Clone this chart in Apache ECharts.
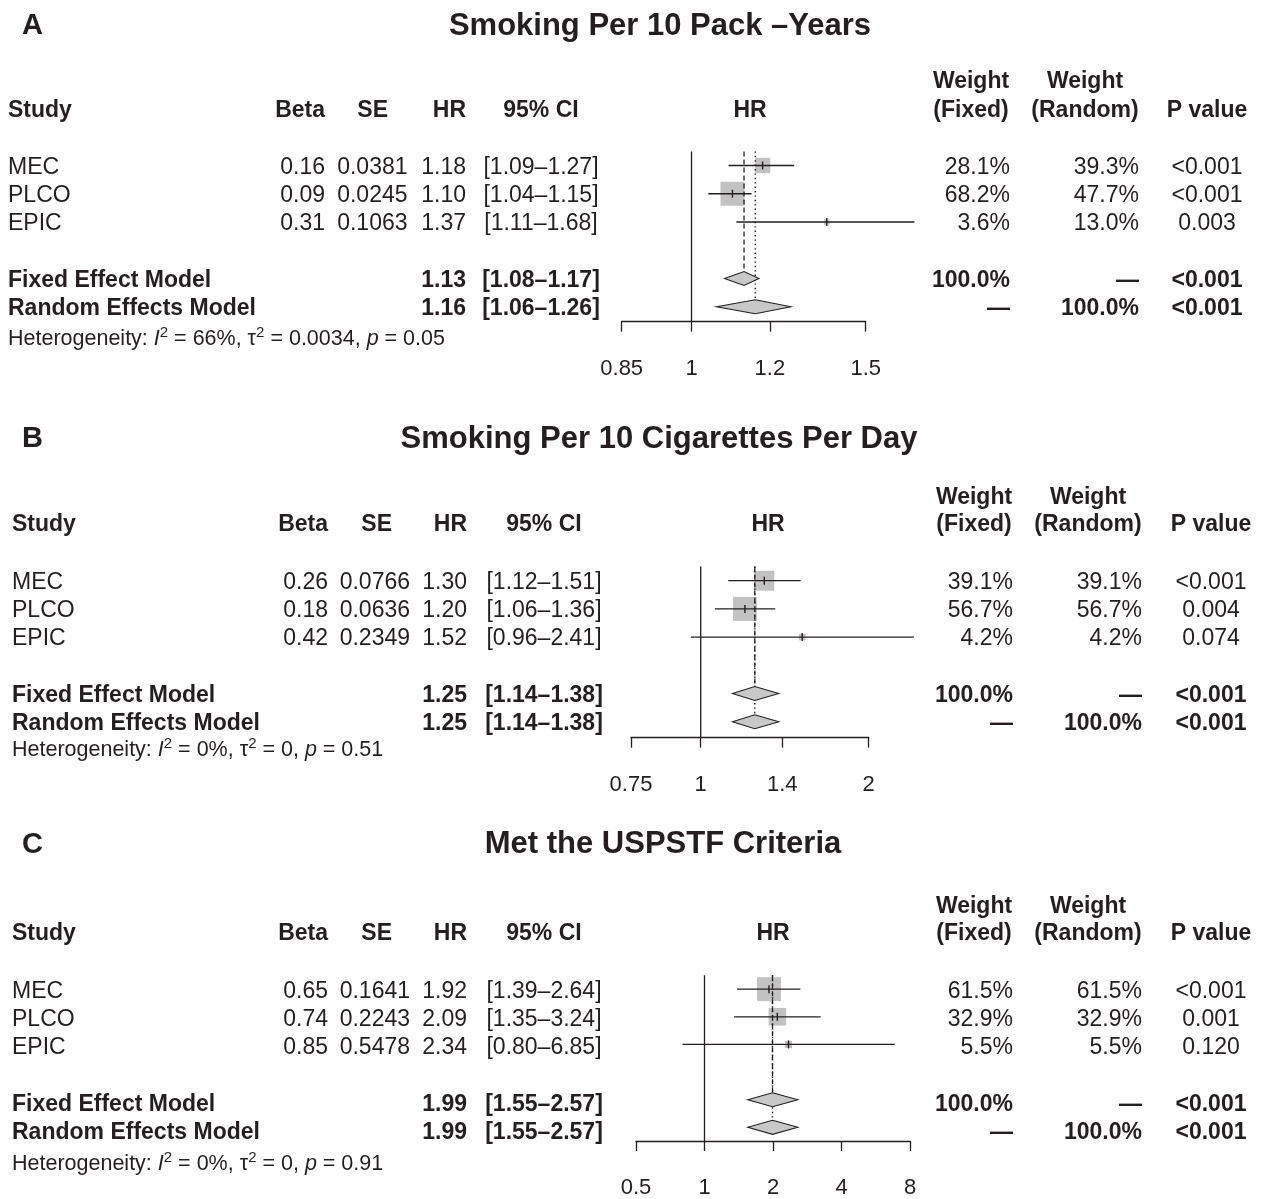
<!DOCTYPE html>
<html>
<head>
<meta charset="utf-8">
<title>Forest plots: smoking exposure and HR</title>
<script src="https://cdn.jsdelivr.net/npm/echarts@6/dist/echarts.min.js"></script>
<style>
  html, body { margin: 0; padding: 0; background: #ffffff; }
  #main { width: 1266px; height: 1199px; }
</style>
</head>
<body>
<div id="main"></div>
<script>
// ---------------- data ----------------
const studies = ['MEC', 'PLCO', 'EPIC'];
const modelNames = ['Fixed Effect Model', 'Random Effects Model'];

// A: smoking per 10 pack-years
const titleA = 'Smoking Per 10 Pack –Years';
const betaA = [0.16, 0.09, 0.31];
const seA = [0.0381, 0.0245, 0.1063];
const hrA = [1.18, 1.10, 1.37];
const lowA = [1.09, 1.04, 1.11];
const highA = [1.27, 1.15, 1.68];
const wFixedA = [28.1, 68.2, 3.6];
const wRandomA = [39.3, 47.7, 13.0];
const pA = ['<0.001', '<0.001', '0.003'];
const fixedA = [1.13, 1.08, 1.17];     // HR, lower, upper
const randomA = [1.16, 1.06, 1.26];
const pModelA = ['<0.001', '<0.001'];
const hetA = ['66%', '0.0034', '0.05']; // I2, tau2, p
const ticksA = [0.85, 1, 1.2, 1.5];

// B: smoking per 10 cigarettes per day
const titleB = 'Smoking Per 10 Cigarettes Per Day';
const betaB = [0.26, 0.18, 0.42];
const seB = [0.0766, 0.0636, 0.2349];
const hrB = [1.30, 1.20, 1.52];
const lowB = [1.12, 1.06, 0.96];
const highB = [1.51, 1.36, 2.41];
const wFixedB = [39.1, 56.7, 4.2];
const wRandomB = [39.1, 56.7, 4.2];
const pB = ['<0.001', '0.004', '0.074'];
const fixedB = [1.25, 1.14, 1.38];
const randomB = [1.25, 1.14, 1.38];
const pModelB = ['<0.001', '<0.001'];
const hetB = ['0%', '0', '0.51'];
const ticksB = [0.75, 1, 1.4, 2];

// C: met the USPSTF criteria
const titleC = 'Met the USPSTF Criteria';
const betaC = [0.65, 0.74, 0.85];
const seC = [0.1641, 0.2243, 0.5478];
const hrC = [1.92, 2.09, 2.34];
const lowC = [1.39, 1.35, 0.80];
const highC = [2.64, 3.24, 6.85];
const wFixedC = [61.5, 32.9, 5.5];
const wRandomC = [61.5, 32.9, 5.5];
const pC = ['<0.001', '0.001', '0.120'];
const fixedC = [1.99, 1.55, 2.57];
const randomC = [1.99, 1.55, 2.57];
const pModelC = ['<0.001', '<0.001'];
const hetC = ['0%', '0', '0.91'];
const ticksC = [0.5, 1, 2, 4, 8];

// ---------------- layout & style ----------------
const INK = '#231f20';
const GREY = '#c2c2c2';
const FONT = '"Liberation Sans", Arial, Helvetica, sans-serif';
const ln = Math.log;
const TEXT_DY = 2;   // canvas "middle" sits a little high for these glyphs

const panels = [
  { letter: 'A', title: titleA, beta: betaA, se: seA, hr: hrA, low: lowA, high: highA,
    wf: wFixedA, wr: wRandomA, p: pA, fixed: fixedA, random: randomA, pModel: pModelA, het: hetA, ticks: ticksA,
    L: { letterY: 24, titleX: 660, titleY: 24, h1: 80, h2: 109, row0: 165.5, step: 28.25, axisY: 321.7,
         x0: 621.7, x1: 865.7, hetY: 338,
         c: { study: 8, beta: 325, seH: 388, se: 407.5, hr: 466, ci: 541, plotH: 750, wfH: 971, wf: 1010, wrH: 1085, wr: 1139, p: 1207 } } },
  { letter: 'B', title: titleB, beta: betaB, se: seB, hr: hrB, low: lowB, high: highB,
    wf: wFixedB, wr: wRandomB, p: pB, fixed: fixedB, random: randomB, pModel: pModelB, het: hetB, ticks: ticksB,
    L: { letterY: 437, titleX: 659, titleY: 437, h1: 496, h2: 523, row0: 580.7, step: 28.2, axisY: 737.7,
         x0: 631, x1: 868.7, hetY: 749,
         c: { study: 12, beta: 328, seH: 392, se: 410, hr: 467, ci: 544, plotH: 768, wfH: 974, wf: 1013, wrH: 1088, wr: 1142, p: 1211 } } },
  { letter: 'C', title: titleC, beta: betaC, se: seC, hr: hrC, low: lowC, high: highC,
    wf: wFixedC, wr: wRandomC, p: pC, fixed: fixedC, random: randomC, pModel: pModelC, het: hetC, ticks: ticksC,
    L: { letterY: 843, titleX: 663, titleY: 842, h1: 905, h2: 932, row0: 989.5, step: 28.3, axisY: 1145,
         x0: 636, x1: 910, hetY: 1163,
         c: { study: 12, beta: 328, seH: 392, se: 410, hr: 467, ci: 544, plotH: 773, wfH: 974, wf: 1013, wrH: 1088, wr: 1142, p: 1211 } } }
];

const STUDY_ROWS = [0, 1, 2];
const FIXED_ROW = 4, RANDOM_ROW = 5;
const DIAMOND_HALF = 7;   // px
const MAX_SQUARE = 24;    // px, side of the heaviest study's box

function txt(x, y, s, size, opts) {
  opts = opts || {};
  const align = opts.align || 'left';
  return {
    type: 'text', x: x, y: y + TEXT_DY, silent: true, z: 10,
    style: {
      text: s, fill: INK,
      font: (opts.bold ? 'bold ' : '') + size + 'px ' + FONT,
      align: align, textAlign: align,
      verticalAlign: 'middle', textVerticalAlign: 'middle'
    }
  };
}
const ci = (lo, hi) => '[' + lo.toFixed(2) + '–' + hi.toFixed(2) + ']';
const pct = v => v.toFixed(1) + '%';

const grids = [], xAxes = [], yAxes = [], series = [], graphics = [];

panels.forEach((P, i) => {
  const L = P.L, c = L.c;
  const top = L.row0 - 0.5 * L.step;
  const yMax = (L.axisY - L.row0) / L.step;
  const tickLn = P.ticks.map(ln);

  grids.push({ left: L.x0, width: L.x1 - L.x0, top: top, height: L.axisY - top, containLabel: false });
  xAxes.push({
    gridIndex: i, type: 'value', min: tickLn[0], max: tickLn[tickLn.length - 1],
    axisLine: { show: true, onZero: false, lineStyle: { color: INK, width: 1.3 } },
    axisTick: { show: true, customValues: tickLn, length: 10, lineStyle: { color: INK, width: 1.3 } },
    axisLabel: {
      show: true, customValues: tickLn, margin: 36, fontSize: 22, color: INK, fontFamily: FONT,
      hideOverlap: false, showMinLabel: true, showMaxLabel: true,
      formatter: v => {
        const t = P.ticks.find(t => Math.abs(ln(t) - v) < 1e-6);
        return t == null ? '' : String(t);
      }
    },
    splitLine: { show: false }
  });
  yAxes.push({ gridIndex: i, type: 'value', min: -0.5, max: yMax, inverse: true, show: false });

  const maxW = Math.max.apply(null, P.wf);
  const studyData = STUDY_ROWS.map((r, k) => [ln(P.hr[k]), ln(P.low[k]), ln(P.high[k]), r, P.wf[k]]);

  // weight boxes
  series.push({
    type: 'custom', xAxisIndex: i, yAxisIndex: i, clip: false, silent: true, z: 1,
    encode: { x: 0, y: 3 },
    data: studyData,
    renderItem: (params, api) => {
      const p = api.coord([api.value(0), api.value(3)]);
      const side = MAX_SQUARE * Math.sqrt(api.value(4) / maxW);
      return { type: 'rect', shape: { x: p[0] - side / 2, y: p[1] - side / 2, width: side, height: side },
               style: { fill: GREY } };
    }
  });

  // reference line at HR = 1 and pooled-estimate lines
  const vline = (x, y1, dash, w) => ({
    type: 'line', xAxisIndex: i, yAxisIndex: i, clip: false, silent: true, z: 2,
    symbol: 'none', data: [[x, -0.5], [x, y1]],
    lineStyle: { color: INK, width: w, type: dash }
  });
  series.push(vline(0, yMax, 'solid', 1.3));
  series.push(vline(ln(P.fixed[0]), FIXED_ROW - DIAMOND_HALF / L.step, [5, 3], 1.3));
  series.push(vline(ln(P.random[0]), RANDOM_ROW - DIAMOND_HALF / L.step, [1.4, 3], 1.4));

  // confidence intervals and point-estimate ticks
  series.push({
    type: 'custom', xAxisIndex: i, yAxisIndex: i, clip: false, silent: true, z: 3,
    encode: { x: 0, y: 3 },
    data: studyData,
    renderItem: (params, api) => {
      const r = api.value(3);
      const p = api.coord([api.value(0), r]);
      const lo = api.coord([api.value(1), r]);
      const hi = api.coord([api.value(2), r]);
      return { type: 'group', children: [
        { type: 'line', shape: { x1: lo[0], y1: lo[1], x2: hi[0], y2: hi[1] }, style: { stroke: INK, lineWidth: 1.3 } },
        { type: 'line', shape: { x1: p[0], y1: p[1] - 4, x2: p[0], y2: p[1] + 4 }, style: { stroke: INK, lineWidth: 1.4 } }
      ] };
    }
  });

  // pooled diamonds
  series.push({
    type: 'custom', xAxisIndex: i, yAxisIndex: i, clip: false, silent: true, z: 4,
    encode: { x: 0, y: 3 },
    data: [
      [ln(P.fixed[0]), ln(P.fixed[1]), ln(P.fixed[2]), FIXED_ROW],
      [ln(P.random[0]), ln(P.random[1]), ln(P.random[2]), RANDOM_ROW]
    ],
    renderItem: (params, api) => {
      const r = api.value(3);
      const m = api.coord([api.value(0), r]);
      const lo = api.coord([api.value(1), r]);
      const hi = api.coord([api.value(2), r]);
      return { type: 'polygon',
               shape: { points: [[lo[0], m[1]], [m[0], m[1] - DIAMOND_HALF], [hi[0], m[1]], [m[0], m[1] + DIAMOND_HALF]] },
               style: { fill: '#c8c8c8', stroke: INK, lineWidth: 1.1 } };
    }
  });

  // ---- text ----
  graphics.push(txt(22, L.letterY, P.letter, 29, { bold: true }));
  graphics.push(txt(L.titleX, L.titleY, P.title, 31, { bold: true, align: 'center' }));

  const HS = 23;
  graphics.push(txt(c.study, L.h2, 'Study', HS, { bold: true }));
  graphics.push(txt(c.beta, L.h2, 'Beta', HS, { bold: true, align: 'right' }));
  graphics.push(txt(c.seH, L.h2, 'SE', HS, { bold: true, align: 'right' }));
  graphics.push(txt(c.hr, L.h2, 'HR', HS, { bold: true, align: 'right' }));
  graphics.push(txt(c.ci, L.h2, '95% CI', HS, { bold: true, align: 'center' }));
  graphics.push(txt(c.plotH, L.h2, 'HR', HS, { bold: true, align: 'center' }));
  graphics.push(txt(c.wfH, L.h1, 'Weight', HS, { bold: true, align: 'center' }));
  graphics.push(txt(c.wfH, L.h2, '(Fixed)', HS, { bold: true, align: 'center' }));
  graphics.push(txt(c.wrH, L.h1, 'Weight', HS, { bold: true, align: 'center' }));
  graphics.push(txt(c.wrH, L.h2, '(Random)', HS, { bold: true, align: 'center' }));
  graphics.push(txt(c.p, L.h2, 'P value', HS, { bold: true, align: 'center' }));

  const DS = 23;
  STUDY_ROWS.forEach((r, k) => {
    const y = L.row0 + r * L.step;
    graphics.push(txt(c.study, y, studies[k], DS));
    graphics.push(txt(c.beta, y, P.beta[k].toFixed(2), DS, { align: 'right' }));
    graphics.push(txt(c.se, y, P.se[k].toFixed(4), DS, { align: 'right' }));
    graphics.push(txt(c.hr, y, P.hr[k].toFixed(2), DS, { align: 'right' }));
    graphics.push(txt(c.ci, y, ci(P.low[k], P.high[k]), DS, { align: 'center' }));
    graphics.push(txt(c.wf, y, pct(P.wf[k]), DS, { align: 'right' }));
    graphics.push(txt(c.wr, y, pct(P.wr[k]), DS, { align: 'right' }));
    graphics.push(txt(c.p, y, P.p[k], DS, { align: 'center' }));
  });

  [[FIXED_ROW, P.fixed, '100.0%', '—'], [RANDOM_ROW, P.random, '—', '100.0%']].forEach((m, k) => {
    const y = L.row0 + m[0] * L.step;
    const est = m[1];
    graphics.push(txt(c.study, y, modelNames[k], DS, { bold: true }));
    graphics.push(txt(c.hr, y, est[0].toFixed(2), DS, { bold: true, align: 'right' }));
    graphics.push(txt(c.ci, y, ci(est[1], est[2]), DS, { bold: true, align: 'center' }));
    graphics.push(txt(c.wf, y, m[2], DS, { bold: true, align: 'right' }));
    graphics.push(txt(c.wr, y, m[3], DS, { bold: true, align: 'right' }));
    graphics.push(txt(c.p, y, P.pModel[k], DS, { bold: true, align: 'center' }));
  });

  // heterogeneity statement
  const HF = 21.5;
  graphics.push({
    type: 'text', x: c.study, y: L.hetY + 1, silent: true, z: 10,
    style: {
      text: '{n|Heterogeneity: }{i|I}{s|2}{n| = ' + P.het[0] + ', τ}{s|2}{n| = ' + P.het[1] + ', }{i|p}{n| = ' + P.het[2] + '}',
      fill: INK, font: HF + 'px ' + FONT,
      align: 'left', textAlign: 'left', verticalAlign: 'middle', textVerticalAlign: 'middle',
      rich: {
        n: { fontSize: HF, fontFamily: FONT, lineHeight: 27, fill: INK, color: INK },
        i: { fontSize: HF, fontFamily: FONT, fontStyle: 'italic', lineHeight: 27, fill: INK, color: INK },
        s: { fontSize: 15, fontFamily: FONT, lineHeight: 15, verticalAlign: 'top', fill: INK, color: INK }
      }
    }
  });
});

const chart = echarts.init(document.getElementById('main'), null, { renderer: 'canvas' });
chart.setOption({
  backgroundColor: '#ffffff',
  animation: false,
  grid: grids,
  xAxis: xAxes,
  yAxis: yAxes,
  series: series,
  graphic: { elements: graphics }
});
</script>
</body>
</html>
